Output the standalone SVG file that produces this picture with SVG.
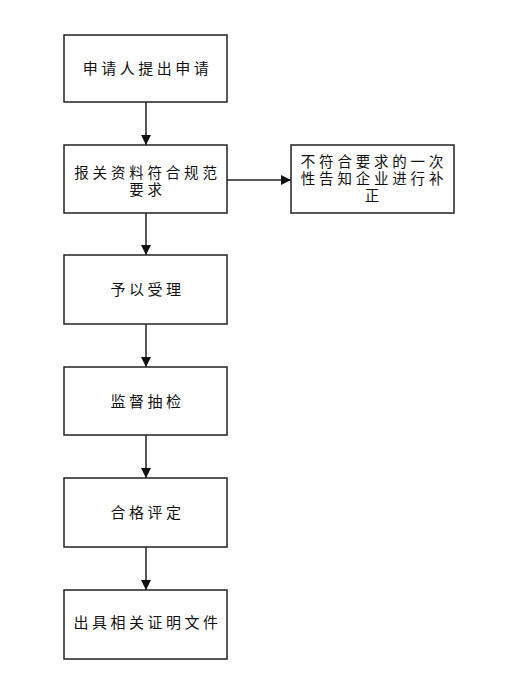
<svg xmlns="http://www.w3.org/2000/svg" width="532" height="677" viewBox="0 0 532 677">
<style>
.box{fill:#fff;stroke:#222;stroke-width:1.5}
.t{font-family:"Liberation Sans","Noto Sans CJK SC",sans-serif;font-size:15px;letter-spacing:3.5px;fill:#111;text-anchor:middle}
.s{font-size:14.5px;letter-spacing:3.8px}
.c{stroke:#222;stroke-width:1.5;fill:none;marker-end:url(#ah)}
</style>
<defs>
<marker id="ah" viewBox="0 0 10 10" refX="10" refY="5" markerWidth="10" markerHeight="10" markerUnits="userSpaceOnUse" orient="auto">
<path d="M0,0 L10,5 L0,10 Z" fill="#111"/>
</marker>
</defs>
<rect width="532" height="677" fill="#fff"/>
<g id="connectors">
<line class="c" x1="146" y1="102" x2="146" y2="145"/>
<line class="c" x1="227" y1="180" x2="291" y2="180"/>
<line class="c" x1="146" y1="213" x2="146" y2="255"/>
<line class="c" x1="146" y1="324" x2="146" y2="367"/>
<line class="c" x1="146" y1="435" x2="146" y2="478"/>
<line class="c" x1="146" y1="547" x2="146" y2="590"/>
</g>
<g id="n1"><rect class="box" x="64" y="35" width="163" height="67"/><text class="t" x="147.5" y="74">申请人提出申请</text></g>
<g id="n2"><rect class="box" x="64" y="145" width="163" height="68"/><text class="t s" x="147.5" y="178">报关资料符合规范</text><text class="t s" x="147.5" y="195">要求</text></g>
<g id="n3"><rect class="box" x="291" y="145" width="163" height="68"/><text class="t s" x="374" y="167">不符合要求的一次</text><text class="t s" x="374" y="184">性告知企业进行补</text><text class="t s" x="374" y="201">正</text></g>
<g id="n4"><rect class="box" x="64" y="255" width="163" height="69"/><text class="t" x="147.5" y="295">予以受理</text></g>
<g id="n5"><rect class="box" x="64" y="367" width="163" height="68"/><text class="t" x="147.5" y="407">监督抽检</text></g>
<g id="n6"><rect class="box" x="64" y="478" width="163" height="69"/><text class="t" x="147.5" y="518">合格评定</text></g>
<g id="n7"><rect class="box" x="64" y="590" width="163" height="69"/><text class="t" x="147.5" y="628">出具相关证明文件</text></g>
</svg>
